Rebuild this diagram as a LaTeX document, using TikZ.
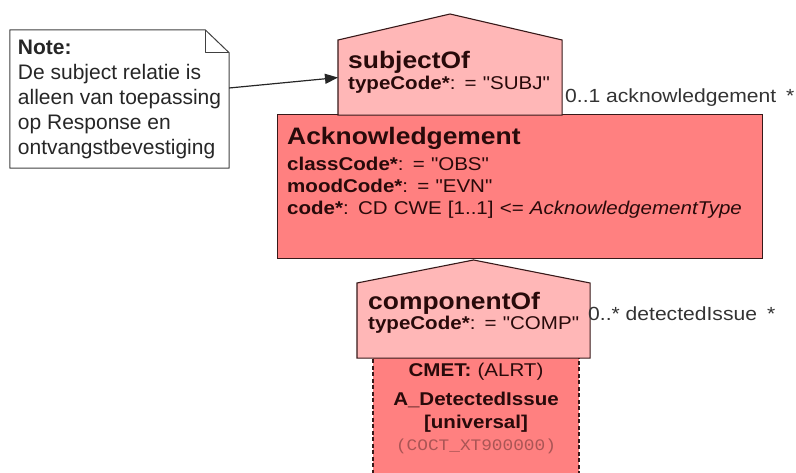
\documentclass[tikz,border=0pt]{standalone}
\usepackage{fontspec}
\setmainfont{Liberation Sans}
\newfontfamily\umlfont[FakeStretch=1.11]{Liberation Sans}
\newfontfamily\umlmono[FakeStretch=1.11]{Liberation Mono}
\usetikzlibrary{arrows.meta,positioning}
\definecolor{umlpink}{RGB}{255,183,183}
\definecolor{umlred}{RGB}{255,128,128}
\definecolor{umlline}{RGB}{55,25,25}
\definecolor{umltext}{RGB}{40,10,10}
\definecolor{umlcode}{RGB}{170,85,85}
\newcommand{\umltitle}{\umlfont\fontsize{23.8}{22}\selectfont\bfseries}
\newcommand{\umlattr}{\umlfont\fontsize{18.5}{22}\selectfont}
\tikzstyle{notebox} = [rectangle, minimum width=219pt, minimum height=138pt, align=left, inner sep=0pt, text=black!85, font=\fontsize{21}{25}\selectfont]
\tikzstyle{notepath} = [draw=black!75, line width=1pt, line join=round]
\tikzstyle{actbox} = [rectangle, inner sep=0pt, draw=umlline, line width=1.1pt]
\tikzstyle{actline} = [draw=umlline, line width=1.1pt, line join=miter]
\tikzstyle{umltxt} = [inner sep=0pt, text=umltext, font=\umlattr, align=left]
\tikzstyle{umllabel} = [inner sep=0pt, text=black!80, font=\umlfont\fontsize{19}{22}\selectfont]
\tikzstyle{notearrow} = [line width=1.2pt, color=black!85, -{Triangle[length=13pt,width=10pt]}]

\begin{document}
\begin{tikzpicture}[x=1pt, y=-1pt]
\useasboundingbox (0,0) rectangle (796,473);
\clip (0,0) rectangle (796,473);

% Note
\node (note) [notebox] at (119.5,99) {\textbf{Note:}\\De subject relatie is\\alleen van toepassing\\op Response en\\ontvangstbevestiging};
\draw[notepath] (note.north west) -- ([xshift=-24pt]note.north east) -- ([yshift=-23pt]note.north east) -- (note.south east) -- (note.south west) -- cycle;
\draw[notepath] ([xshift=-24pt]note.north east) -- ([xshift=-24pt,yshift=-23pt]note.north east) -- ([yshift=-23pt]note.north east);

% Class boxes
\node (cmet) [actbox, fill=umlred, dash pattern=on 4pt off 2.5pt, minimum width=206pt, minimum height=126pt, anchor=north] at (476,357) {};
\node (ack) [actbox, fill=umlred, minimum width=485pt, minimum height=144pt, anchor=north west] at (277,114) {};
\node (subj) [actbox, draw=none, minimum width=223pt, minimum height=74pt, anchor=north west] at (338,40) {};
\node (comp) [actbox, draw=none, minimum width=232pt, minimum height=74pt, anchor=north west] at (357,283) {};
\draw[actline, fill=umlpink] (subj.south west) -- (subj.north west) -- ([yshift=26pt]subj.north) -- (subj.north east) -- (subj.south east) -- cycle;
\draw[actline, fill=umlpink] (comp.south west) -- (comp.north west) -- ([yshift=23pt]comp.north) -- (comp.north east) -- (comp.south east) -- cycle;

% Texts
\node (subjtxt) [umltxt, text width=215pt, anchor=base west] at (348,69) {{\umltitle subjectOf}\\[-1pt]\textbf{typeCode*}: = "SUBJ"};
\node (acktxt) [umltxt, text width=470pt, anchor=base west] at (287,145) {{\umltitle Acknowledgement}\\[4pt]\textbf{classCode*}: = "OBS"\\\textbf{moodCode*}: = "EVN"\\\textbf{code*}: CD CWE [1..1] <= \textit{AcknowledgementType}};
\node (comptxt) [umltxt, text width=220pt, anchor=base west] at (368,310) {{\umltitle componentOf}\\[-2pt]\textbf{typeCode*}: = "COMP"};
\node (cmettxt) [umltxt, text width=206pt, align=center, anchor=base] at (476,377) {\textbf{CMET:} (ALRT)\\[7pt]\textbf{A\_DetectedIssue}\\[1pt]\textbf{[universal]}\\{\umlmono\fontsize{16}{22}\selectfont\color{umlcode}(COCT\_XT900000)}};

% Roles
\node (ackrole) [umllabel, anchor=base west] at (565,103) {0..1 acknowledgement\hspace{10pt}*};
\node (issuerole) [umllabel, anchor=base west] at (588,321) {0..* detectedIssue\hspace{10pt}*};

% Arrow
\draw[notearrow] ([yshift=11pt]note.east) -- (subj.west);
\end{tikzpicture}
\end{document}
